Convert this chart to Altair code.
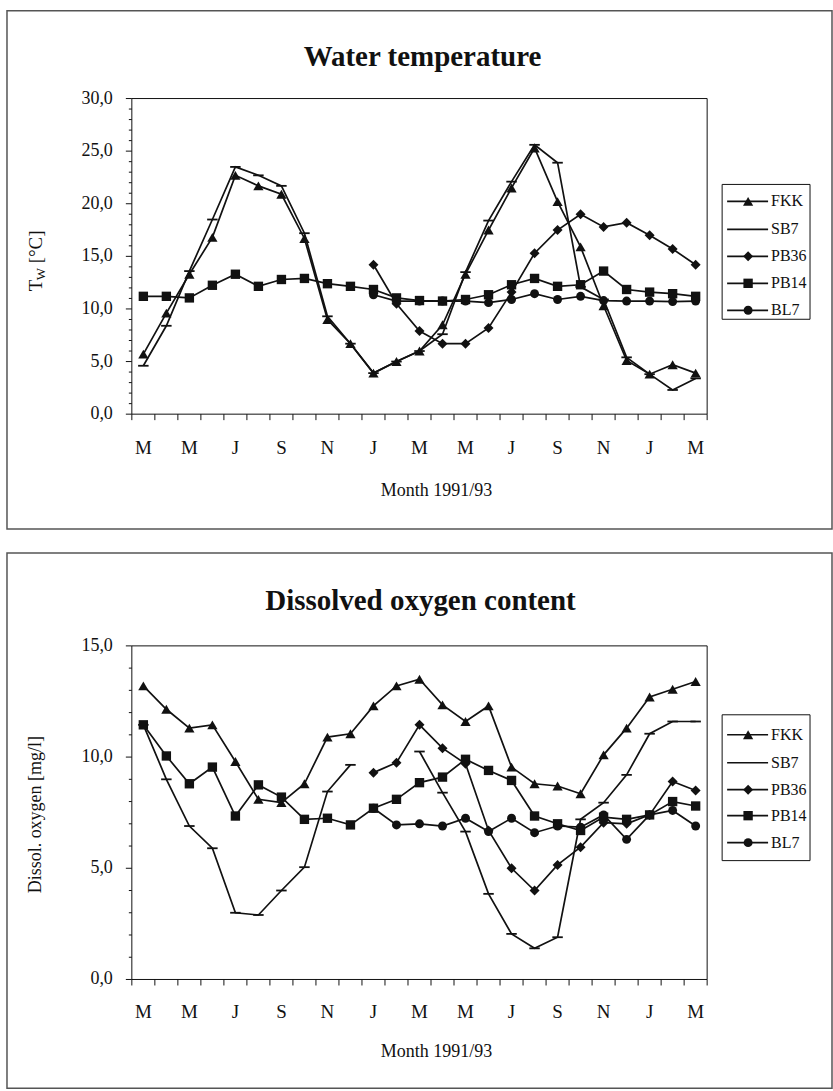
import altair as alt
import pandas as pd

SERIES = ["FKK", "SB7", "PB36", "PB14", "BL7"]
MONTH_TICKS = ["M", "M", "J", "S", "N", "J", "M", "M", "J", "S", "N", "J", "M"]
N_MONTHS = 25  # monthly samples, March 1991 .. March 1993

# Water temperature [deg C]
temp_fkk = [5.7, 9.6, 13.3, 16.8, 22.7, 21.7, 20.9, 16.7, 9.0, 6.7, 3.9, 5.0, 6.0,
            8.5, 13.3, 17.5, 21.5, 25.3, 20.2, 15.9, 10.3, 5.1, 3.8, 4.7, 3.9]
temp_sb7 = [4.6, 8.4, 13.6, 18.5, 23.5, 22.7, 21.7, 17.2, 9.3, 6.7, 3.9, 5.0, 6.0,
            7.6, 13.5, 18.4, 22.1, 25.6, 23.9, 12.1, 10.9, 5.4, 3.8, 2.3, 3.4]
temp_pb36 = [None] * 10 + [14.2, 10.5, 7.9, 6.7, 6.7, 8.2, 11.6, 15.3, 17.5, 19.0,
                           17.8, 18.2, 17.0, 15.7, 14.2]
temp_pb14 = [11.2, 11.2, 11.05, 12.25, 13.3, 12.15, 12.8, 12.9, 12.4, 12.15, 11.85,
             11.05, 10.8, 10.75, 10.9, 11.35, 12.3, 12.9, 12.15, 12.3, 13.6, 11.85,
             11.6, 11.45, 11.2]
temp_bl7 = [None] * 10 + [11.35, 10.75, 10.75, 10.75, 10.75, 10.6, 10.9, 11.45, 10.9,
                          11.2, 10.8, 10.75, 10.75, 10.7, 10.75]

# Dissolved oxygen [mg/l]
oxy_fkk = [13.2, 12.15, 11.3, 11.45, 9.8, 8.1, 7.95, 8.8, 10.9, 11.05, 12.3, 13.2, 13.5,
           12.35, 11.6, 12.3, 9.55, 8.8, 8.7, 8.35, 10.1, 11.3, 12.7, 13.05, 13.4]
oxy_sb7 = [11.45, 9.0, 6.9, 5.9, 3.0, 2.9, 4.0, 5.05, 8.45, 9.65, None, None, 10.25,
           8.4, 6.65, 3.85, 2.05, 1.4, 1.9, 7.2, 7.95, 9.2, 11.05, 11.6, 11.6]
oxy_pb36 = [None] * 10 + [9.3, 9.75, 11.45, 10.4, 9.7, 6.7, 5.0, 4.0, 5.15, 5.95,
                          7.05, 7.0, 7.4, 8.9, 8.5]
oxy_pb14 = [11.45, 10.05, 8.8, 9.55, 7.35, 8.75, 8.2, 7.2, 7.25, 6.95, 7.7, 8.1, 8.85,
            9.1, 9.9, 9.4, 8.95, 7.35, 7.0, 6.7, 7.3, 7.2, 7.4, 8.0, 7.8]
oxy_bl7 = [None] * 10 + [7.7, 6.95, 7.0, 6.9, 7.25, 6.65, 7.25, 6.6, 6.9, 6.85, 7.4,
                         6.3, 7.4, 7.6, 6.9]

temp_ticks = [0, 5, 10, 15, 20, 25, 30]
temp_tick_labels = ["0,0", "5,0", "10,0", "15,0", "20,0", "25,0", "30,0"]
oxy_ticks = [0, 5, 10, 15]
oxy_tick_labels = ["0,0", "5,0", "10,0", "15,0"]

FONT = "Liberation Serif"
INK = "#111111"
OX = 6
LINE_W = 1.7
MARKERS = {
    "FKK": dict(shape="triangle-up", size=105, filled=True),
    "SB7": dict(shape="M-1,0L1,0", size=110, filled=False, strokeWidth=1.8),
    "PB36": dict(shape="diamond", size=100, filled=True),
    "PB14": dict(shape="square", size=88, filled=True),
    "BL7": dict(shape="circle", size=80, filled=True),
}


def long_frame(cols):
    rows = []
    for name, vals in zip(SERIES, cols):
        seg, gap = 0, False
        for i, v in enumerate(vals):
            if v is None:
                gap = True
                continue
            if gap and any(x is not None for x in vals[:i]):
                seg += 1
            gap = False
            rows.append({"i": i, "v": v, "series": name, "key": f"{name}-{seg}"})
    return pd.DataFrame(rows)


def panel(cols, y_max, ticks, tick_labels, title, oy, h, g, ytitle_layers):
    L = lambda px: px - OX
    T = lambda py: py - oy
    xs = alt.Scale(domain=[-0.5, N_MONTHS - 0.5], range=[L(g["x0"]), L(g["x1"])],
                   nice=False, zero=False)
    ys = alt.Scale(domain=[0, y_max], range=[T(g["y1"]), T(g["y0"])],
                   nice=False, zero=False)
    X = lambda f: alt.X(f, scale=xs, axis=None)
    Y = lambda f: alt.Y(f, scale=ys, axis=None)
    one = pd.DataFrame({"k": [0]})
    df = long_frame(cols)
    layers = []

    # plot-area frame
    layers.append(alt.Chart(one).mark_rect(fill="transparent", stroke=INK, strokeWidth=1).encode(
        x=alt.X(datum=-0.5, scale=xs, axis=None), x2=alt.X2(datum=N_MONTHS - 0.5),
        y=alt.Y(datum=0, scale=ys, axis=None), y2=alt.Y2(datum=y_max)))

    # y axis: major / minor ticks and labels
    major = pd.DataFrame({"v": ticks, "lab": tick_labels})
    minor = pd.DataFrame({"v": [v for v in range(0, y_max + 1) if v not in ticks]})
    layers.append(alt.Chart(major).mark_rule(color=INK, strokeWidth=1).encode(
        x=alt.value(L(g["x0"]) - 6), x2=alt.value(L(g["x0"])), y=Y("v:Q")))
    layers.append(alt.Chart(minor).mark_rule(color=INK, strokeWidth=1).encode(
        x=alt.value(L(g["x0"]) - 3), x2=alt.value(L(g["x0"])), y=Y("v:Q")))
    layers.append(alt.Chart(major).mark_text(font=FONT, fontSize=18, align="right",
                                             baseline="middle", color=INK).encode(
        x=alt.value(L(g["x0"]) - 19), y=Y("v:Q"), text="lab:N"))

    # x axis: ticks between months, labels every second month
    bounds = pd.DataFrame({"b": [k - 0.5 for k in range(N_MONTHS + 1)]})
    layers.append(alt.Chart(bounds).mark_rule(color=INK, strokeWidth=1).encode(
        x=X("b:Q"), y=alt.value(T(g["y1"])), y2=alt.value(T(g["y1"]) + 6)))
    xl = pd.DataFrame({"i": list(range(0, N_MONTHS, 2)), "lab": MONTH_TICKS})
    layers.append(alt.Chart(xl).mark_text(font=FONT, fontSize=19, baseline="middle",
                                          color=INK).encode(
        x=X("i:Q"), y=alt.value(T(g["xlab"])), text="lab:N"))

    # series lines and markers
    layers.append(alt.Chart(df).mark_line(color=INK, strokeWidth=LINE_W).encode(
        x=X("i:Q"), y=Y("v:Q"), detail="key:N", order="i:Q"))
    for name in SERIES:
        m = MARKERS[name]
        layers.append(alt.Chart(df[df.series == name]).mark_point(
            color=INK, opacity=1, **m).encode(x=X("i:Q"), y=Y("v:Q")))

    # titles
    layers.append(alt.Chart(one).mark_text(font=FONT, fontSize=29, fontWeight="bold",
                                           baseline="middle", color=INK).encode(
        x=alt.value(L(g["title_x"])), y=alt.value(T(g["title_y"])), text=alt.value(title)))
    layers.append(alt.Chart(one).mark_text(font=FONT, fontSize=18, baseline="middle",
                                           color=INK).encode(
        x=alt.value(L(g["xtitle_x"])), y=alt.value(T(g["xtitle_y"])),
        text=alt.value("Month 1991/93")))
    for txt, size, dx, py, align in ytitle_layers:
        layers.append(alt.Chart(one).mark_text(font=FONT, fontSize=size, angle=270,
                                               align=align, baseline="middle",
                                               color=INK).encode(
            x=alt.value(L(35 + dx)), y=alt.value(T(py)), text=alt.value(txt)))

    # legend box
    lx0, ly0, lx1, ly1 = g["legend"]
    layers.append(alt.Chart(one).mark_rect(fill="white", stroke=INK, strokeWidth=1).encode(
        x=alt.value(L(lx0)), x2=alt.value(L(lx1)), y=alt.value(T(ly0)), y2=alt.value(T(ly1))))
    for name, ry in zip(SERIES, g["rows"]):
        row = pd.DataFrame({"series": [name]})
        layers.append(alt.Chart(row).mark_rule(color=INK, strokeWidth=LINE_W).encode(
            x=alt.value(L(lx0 + 5)), x2=alt.value(L(lx0 + 46)), y=alt.value(T(ry))))
        if name != "SB7":
            layers.append(alt.Chart(row).mark_point(color=INK, opacity=1,
                                                    **MARKERS[name]).encode(
                x=alt.value(L(lx0 + 26)), y=alt.value(T(ry))))
        layers.append(alt.Chart(row).mark_text(font=FONT, fontSize=16, align="left",
                                               baseline="middle", color=INK).encode(
            x=alt.value(L(lx0 + 49)), y=alt.value(T(ry)), text="series:N"))

    return alt.layer(*layers).properties(
        width=826, height=h,
        view=alt.ViewBackground(stroke="#555555", strokeWidth=1.5, fill="white"))


top = panel(
    [temp_fkk, temp_sb7, temp_pb36, temp_pb14, temp_bl7], 30, temp_ticks, temp_tick_labels,
    "Water temperature", oy=9, h=519,
    g=dict(x0=131, x1=707, y0=97, y1=413, xlab=447, title_x=422, title_y=55,
           xtitle_x=436, xtitle_y=490, legend=(722, 183, 810, 318),
           rows=[200, 228, 255, 282, 309]),
    ytitle_layers=[("T", 19, 0, 290, "left"), ("W", 13, 5, 279, "left"),
                   ("[°C]", 19, 0, 262, "left")],
)

bottom = panel(
    [oxy_fkk, oxy_sb7, oxy_pb36, oxy_pb14, oxy_bl7], 15, oxy_ticks, oxy_tick_labels,
    "Dissolved oxygen content", oy=550, h=536,
    g=dict(x0=131, x1=707, y0=643, y1=977, xlab=1010, title_x=420, title_y=598,
           xtitle_x=436, xtitle_y=1050, legend=(722, 712, 810, 858),
           rows=[732, 760, 787, 813, 840]),
    ytitle_layers=[("Dissol. oxygen [mg/l]", 18, 0, 812, "center")],
)

chart = alt.vconcat(top, bottom, spacing=22).properties(
    padding={"left": 6, "top": 9, "right": 0, "bottom": 0},
    background="white",
)

chart.save("out.html", embed_options={"renderer": "svg", "actions": False})
